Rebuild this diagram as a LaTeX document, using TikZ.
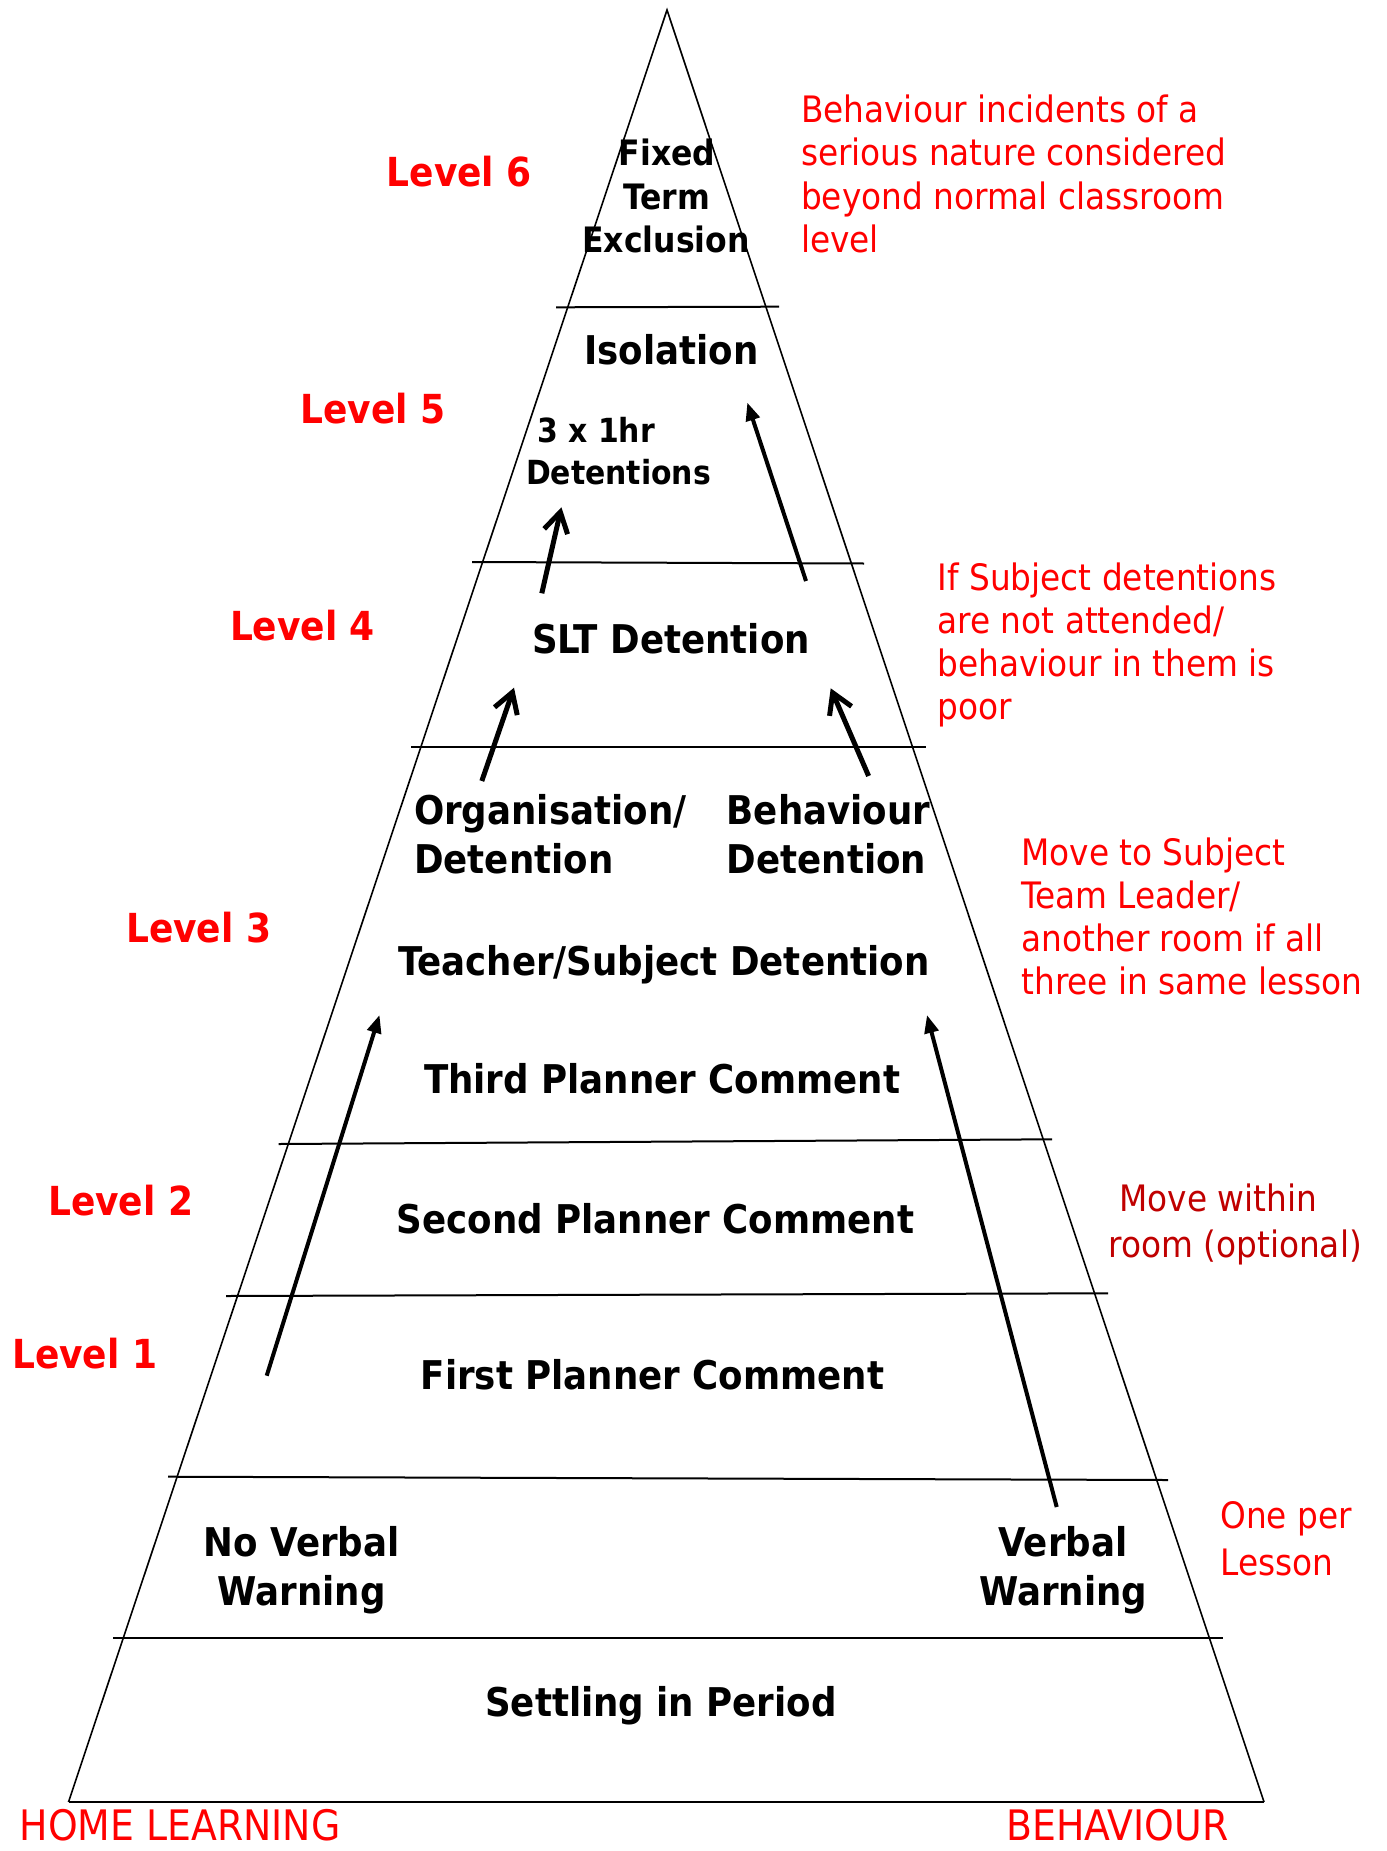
\documentclass[tikz,border=0pt]{standalone}
\usepackage{fontspec}
\setmainfont{DejaVu Sans Condensed}
\usetikzlibrary{arrows.meta}
\definecolor{alert}{HTML}{FF0000}
\definecolor{deepred}{HTML}{C00000}
\tikzset{
  tier/.style={font=\bfseries\fontsize{19.8}{24}\selectfont, inner sep=0pt, anchor=base},
  tierleft/.style={tier, anchor=base west},
  toptier/.style={font=\bfseries\fontsize{17.5}{21}\selectfont, inner sep=0pt, anchor=base},
  smalltier/.style={font=\bfseries\fontsize{16.6}{20}\selectfont, inner sep=0pt, anchor=base west},
  levellabel/.style={font=\bfseries\fontsize{20}{24}\selectfont, text=alert, inner sep=0pt, anchor=base west},
  note/.style={font=\fontsize{18.2}{22}\selectfont, text=alert, inner sep=0pt, anchor=base west},
  darknote/.style={note, text=deepred},
  sidehead/.style={font=\fontsize{21}{25}\selectfont, text=alert, inner sep=0pt, anchor=base west},
  edge/.style={line width=0.8pt},
  divider/.style={line width=1pt},
  stepup/.style={line width=2.5pt, -{Straight Barb[length=10pt,width=12pt]}},
  longup/.style={line width=2pt, -{Triangle[length=9pt,width=7pt]}},
}
\begin{document}
\begin{tikzpicture}[x=0.5pt, y=-0.5pt]
\useasboundingbox (0,0) rectangle (1386,1851);

% pyramid outline
\coordinate (apex) at (667,10);
\coordinate (bl) at (68.5,1802);
\coordinate (br) at (1264,1802);
\draw[edge] (bl) -- (apex) -- (br);
\draw[line width=1.2pt] (bl) -- (br);

% tier dividers
\draw[divider] (556,307.3) -- (779,306.7);
\draw[divider] (472,562) -- (864,563.5);
\draw[divider] (411,747.3) -- (926,747.3);
\draw[divider] (278.6,1144) -- (1052,1139.3);
\draw[divider] (226,1296) -- (1108,1293.3);
\draw[divider] (168,1476.7) -- (1168,1480);
\draw[divider] (113,1638.3) -- (1223,1638.3);

% tier contents
\node[toptier] (fixed) at (667,165.7) {Fixed};
\node[toptier] (term) at (667,210) {Term};
\node[toptier] (excl) at (666,252) {Exclusion};
\node[tier] (iso) at (671.5,364) {Isolation};
\node[smalltier] (three) at (537,442.7) {3 x 1hr};
\node[smalltier] (dets) at (525.7,484) {Detentions};
\node[tier] (slt) at (671,653) {SLT Detention};
\node[tierleft] (org) at (413.7,824) {Organisation/};
\node[tierleft] (orgdet) at (413.7,873.3) {Detention};
\node[tierleft] (beh) at (726.4,824) {Behaviour};
\node[tierleft] (behdet) at (726.4,873.3) {Detention};
\node[tier] (teach) at (664,975) {Teacher/Subject Detention};
\node[tier] (third) at (662,1093.3) {Third Planner Comment};
\node[tier] (second) at (655.5,1233.3) {Second Planner Comment};
\node[tier] (first) at (652.5,1389.3) {First Planner Comment};
\node[tier] (noverbal) at (301.7,1556) {No Verbal};
\node[tier] (nowarn) at (301.5,1605) {Warning};
\node[tier] (verbal) at (1063,1556) {Verbal};
\node[tier] (warn) at (1063.4,1605) {Warning};
\node[tier] (settle) at (661,1716.7) {Settling in Period};

% level labels
\node[levellabel] (lv6) at (386.4,186.2) {Level 6};
\node[levellabel] (lv5) at (300,423.5) {Level 5};
\node[levellabel] (lv4) at (229.6,640.4) {Level 4};
\node[levellabel] (lv3) at (125.7,942.5) {Level 3};
\node[levellabel] (lv2) at (47.7,1215.7) {Level 2};
\node[levellabel] (lv1) at (11.7,1368.3) {Level 1};

% explanatory notes
\node[note] (n6a) at (800.7,122.3) {Behaviour incidents of a};
\node[note] (n6b) at (800.7,165.8) {serious nature considered};
\node[note] (n6c) at (800.7,209.3) {beyond normal classroom};
\node[note] (n6d) at (800.7,252.8) {level};
\node[note] (n4a) at (937.3,590.7) {If Subject detentions};
\node[note] (n4b) at (937.3,633.7) {are not attended/};
\node[note] (n4c) at (937.3,676.7) {behaviour in them is};
\node[note] (n4d) at (937.3,719.7) {poor};
\node[note] (n3a) at (1021,865) {Move to Subject};
\node[note] (n3b) at (1021,908.3) {Team Leader/};
\node[note] (n3c) at (1021,951.6) {another room if all};
\node[note] (n3d) at (1021,994.9) {three in same lesson};
\node[darknote] (n2a) at (1119,1211.7) {Move within};
\node[darknote] (n2b) at (1108.3,1257.3) {room (optional)};
\node[note] (n1a) at (1220,1528.3) {One per};
\node[note] (n1b) at (1220,1575) {Lesson};

% column headings
\node[sidehead] (home) at (19.4,1840) {HOME LEARNING};
\node[sidehead] (behav) at (1006,1840) {BEHAVIOUR};

% escalation arrows
\coordinate (homeS) at (266.7,1375.7);
\coordinate (homeE) at (379.5,1015);
\coordinate (behS) at (1056.7,1507);
\coordinate (behE) at (927,1015);
\coordinate (orgS) at (481.8,781);
\coordinate (orgE) at (514,687.7);
\coordinate (bdS) at (868.6,776);
\coordinate (bdE) at (830.7,688.3);
\coordinate (sltS) at (541.8,593.3);
\coordinate (sltE) at (561.4,507.3);
\coordinate (isoS) at (806,581);
\coordinate (isoE) at (747.3,402.6);
\draw[longup] (homeS) -- (homeE);
\draw[longup] (behS) -- (behE);
\draw[stepup] (orgS) -- (orgE);
\draw[stepup] (bdS) -- (bdE);
\draw[stepup] (sltS) -- (sltE);
\draw[longup] (isoS) -- (isoE);
\end{tikzpicture}
\end{document}
